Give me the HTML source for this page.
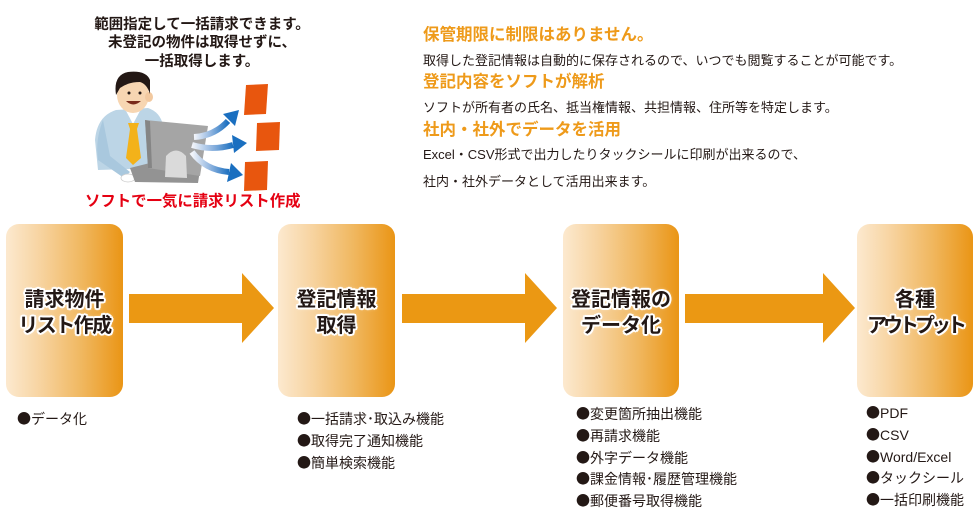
<!DOCTYPE html>
<html><head><meta charset="utf-8">
<style>
html,body{margin:0;padding:0;background:#fff;}
body{width:980px;height:520px;position:relative;overflow:hidden;font-family:"Liberation Sans","Noto Sans CJK JP",sans-serif;color:#231815;}
.abs{position:absolute;white-space:nowrap;}
.box{position:absolute;top:224px;height:173px;border-radius:13px;background:linear-gradient(to right,#fce9cf 0%,#f7d39f 30%,#f0b75f 65%,#ea9515 100%);display:flex;align-items:center;justify-content:center;flex-direction:column;}
.box div{font-family:"Noto Sans CJK JP",sans-serif;font-weight:bold;font-size:20px;line-height:26px;color:#231815;white-space:nowrap;
text-shadow:2px 0 #fff,-2px 0 #fff,0 2px #fff,0 -2px #fff,1.5px 1.5px #fff,-1.5px -1.5px #fff,1.5px -1.5px #fff,-1.5px 1.5px #fff,0 0 4px #fff;}
.list{position:absolute;font-size:14px;line-height:22px;font-family:"Liberation Sans","Noto Sans CJK JP",sans-serif;}
.list div{white-space:nowrap;}
.b{font-family:"Noto Sans CJK JP",sans-serif;}
.h{position:absolute;left:423px;font-weight:bold;font-size:16.5px;line-height:20px;color:#ee9a1a;white-space:nowrap;font-family:"Liberation Sans","Noto Sans CJK JP",sans-serif;}
.t{position:absolute;left:423px;font-size:13px;line-height:20px;color:#231815;white-space:nowrap;}
.lt{position:absolute;left:0;width:404px;text-align:center;font-weight:bold;font-size:14.5px;line-height:19px;color:#231815;white-space:nowrap;}
</style></head><body>

<svg width="980" height="520" style="position:absolute;left:0;top:0" xmlns="http://www.w3.org/2000/svg">
<defs>
<linearGradient id="bl" x1="0" x2="1" y1="0" y2="0">
<stop offset="0" stop-color="#f4f6fb"/><stop offset="0.5" stop-color="#8fb4df"/><stop offset="1" stop-color="#1a6fc0"/>
</linearGradient>
</defs>
<!-- arrows -->
<polygon points="129,294 242,294 242,273 274,308 242,343 242,323 129,323" fill="#eb9813"/>
<polygon points="402,294 525,294 525,273 557,308 525,343 525,323 402,323" fill="#eb9813"/>
<polygon points="685,294 823,294 823,273 855,308 823,343 823,323 685,323" fill="#eb9813"/>

<!-- man: arm/shirt -->
<path d="M98,170 L95,140 Q97,116 116,110 L148,108 Q160,112 163,125 L160,168 Z" fill="#bcd5e6"/>
<path d="M103,120 Q95,140 98,160 L124,178 L130,172 L110,156 Z" fill="#a9c8de"/>
<path d="M125,109 L133,124 L141,109 Z" fill="#ffffff"/>
<polygon points="128,123 139,123 137,129 141,158 133,165 126,158 130,129" fill="#f3b21a"/>
<ellipse cx="128" cy="178" rx="7" ry="4" fill="#ffffff" stroke="#cccccc" stroke-width="0.8"/>
<!-- head -->
<ellipse cx="133" cy="95" rx="16" ry="18" fill="#f7d6b2"/>
<ellipse cx="149" cy="97" rx="4" ry="5" fill="#f2c9a0"/>
<path d="M116,95 Q113,75 128,72 Q146,70 150,80 L150,94 Q147,84 140,82 Q128,82 120,88 Z" fill="#231815"/>
<circle cx="129" cy="93" r="1.5" fill="#231815"/>
<circle cx="140" cy="93" r="1.5" fill="#231815"/>
<path d="M126,101 Q133,108 141,101 Z" fill="#7a2a1a"/>
<!-- monitor -->
<polygon points="130,168 150,163 200,170 198,183 135,182" fill="#939393"/>
<polygon points="145,120 208,126 200,176 148,168" fill="#a5a5a5"/>
<polygon points="145,120 150,121 152,168 148,168" fill="#858585"/>
<path d="M165,177 L166,156 Q176,145 186,156 L187,178 Z" fill="#dadada"/>
<!-- blue arrows -->
<path d="M194,137 Q214,136 228,121" stroke="url(#bl)" stroke-width="6" fill="none"/>
<polygon points="239,110 223,114 235,126" fill="#1a6fc0"/>
<path d="M192,145 Q212,151 233,145" stroke="url(#bl)" stroke-width="6" fill="none"/>
<polygon points="247,143 232,135 234,153" fill="#1a6fc0"/>
<path d="M192,152 Q205,170 229,172" stroke="url(#bl)" stroke-width="6" fill="none"/>
<polygon points="243,175 231,163 227,182" fill="#1a6fc0"/>
<!-- orange docs -->
<polygon points="246,85 268,84 266,114 244,115" fill="#e8560e"/>
<polygon points="257,123 280,122 279,150 256,151" fill="#e8560e"/>
<polygon points="245,162 268,161 267,190 244,191" fill="#e8560e"/>
</svg>

<!-- left top text -->
<div class="lt" style="top:16px;">範囲指定して一括請求できます。</div>
<div class="lt" style="top:34px;">未登記の物件は取得せずに、</div>
<div class="lt" style="top:53px;">一括取得します。</div>
<div class="abs" style="left:85px;top:192px;font-weight:bold;font-size:15.4px;line-height:20px;color:#e50012;">ソフトで一気に請求リスト作成</div>

<!-- right top text -->
<div class="h" style="top:25px;">保管期限に制限はありません。</div>
<div class="t" style="top:51px;">取得した登記情報は自動的に保存されるので、いつでも閲覧することが可能です。</div>
<div class="h" style="top:72px;">登記内容をソフトが解析</div>
<div class="t" style="top:98px;">ソフトが所有者の氏名、抵当権情報、共担情報、住所等を特定します。</div>
<div class="h" style="top:120px;">社内・社外でデータを活用</div>
<div class="t" style="top:145px;">Excel・CSV形式で出力したりタックシールに印刷が出来るので、</div>
<div class="t" style="top:172px;">社内・社外データとして活用出来ます。</div>

<!-- boxes -->
<div class="box" style="left:6px;width:117px;"><div>請求物件</div><div style="letter-spacing:-1.5px;">リスト作成</div></div>
<div class="box" style="left:278px;width:117px;"><div>登記情報</div><div>取得</div></div>
<div class="box" style="left:563px;width:116px;"><div>登記情報の</div><div>データ化</div></div>
<div class="box" style="left:857px;width:116px;"><div>各種</div><div style="letter-spacing:-4px;">アウトプット</div></div>

<!-- lists -->
<div class="list" style="left:17px;top:408px;"><div><span class="b">●</span>データ化</div></div>
<div class="list" style="left:297px;top:408px;">
<div><span class="b">●</span>一括請求･取込み機能</div>
<div><span class="b">●</span>取得完了通知機能</div>
<div><span class="b">●</span>簡単検索機能</div>
</div>
<div class="list" style="left:576px;top:404px;line-height:21.75px;">
<div><span class="b">●</span>変更箇所抽出機能</div>
<div><span class="b">●</span>再請求機能</div>
<div><span class="b">●</span>外字データ機能</div>
<div><span class="b">●</span>課金情報･履歴管理機能</div>
<div><span class="b">●</span>郵便番号取得機能</div>
</div>
<div class="list" style="left:866px;top:403px;line-height:21.75px;">
<div><span class="b">●</span>PDF</div>
<div><span class="b">●</span>CSV</div>
<div><span class="b">●</span>Word/Excel</div>
<div><span class="b">●</span>タックシール</div>
<div><span class="b">●</span>一括印刷機能</div>
</div>

</body></html>
